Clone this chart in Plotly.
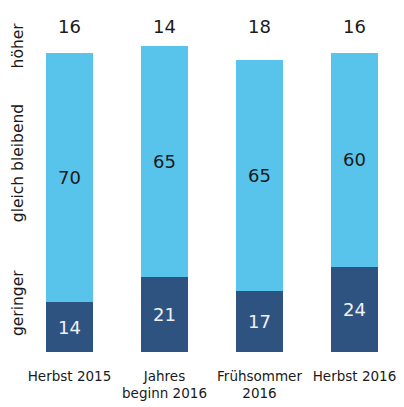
import plotly.graph_objects as go

categories = ["Herbst 2015", "Jahres<br>beginn 2016", "Frühsommer<br>2016", "Herbst 2016"]
geringer = [14, 21, 17, 24]
gleich = [70, 65, 65, 60]
hoeher = [16, 14, 18, 16]
row_labels = ["höher", "gleich bleibend", "geringer"]

LIGHT = "#58c4eb"
DARK = "#2e5381"
FONT = "DejaVu Sans"

fig = go.Figure()
fig.add_trace(go.Bar(
    x=categories, y=geringer, marker=dict(color=DARK, line=dict(width=0)),
    text=geringer, texttemplate="%{text}", textposition="inside",
    insidetextanchor="middle", textangle=0,
    textfont=dict(family=FONT, size=18, color="#eef2f6"),
    hoverinfo="skip",
))
fig.add_trace(go.Bar(
    x=categories, y=gleich, marker=dict(color=LIGHT, line=dict(width=0)),
    text=gleich, texttemplate="%{text}", textposition="inside",
    insidetextanchor="middle", textangle=0,
    textfont=dict(family=FONT, size=18, color="#1a1a1a"),
    hoverinfo="skip",
))
fig.add_trace(go.Scatter(
    x=categories, y=[91.0] * len(categories), mode="text",
    text=[str(v) for v in hoeher],
    textfont=dict(family=FONT, size=18, color="#1a1a1a"),
    hoverinfo="skip", cliponaxis=False,
))

label_y = [86.2, 53.1, 13.8]
for lab, yy in zip(row_labels, label_y):
    fig.add_annotation(
        text=lab, xref="paper", yref="y", x=-0.01, y=yy,
        xanchor="center", yanchor="middle", textangle=-90, showarrow=False,
        font=dict(family=FONT, size=15.5, color="#1a1a1a"),
    )

fig.update_layout(
    width=404, height=407,
    margin=dict(l=22, r=2, t=0, b=55),
    barmode="stack", bargap=0.5,
    plot_bgcolor="white", paper_bgcolor="white",
    showlegend=False,
    font=dict(family=FONT, color="#1a1a1a"),
)
fig.update_xaxes(
    showgrid=False, showline=False, zeroline=False, ticks="",
    tickfont=dict(family=FONT, size=13.5, color="#1a1a1a"),
    ticklabelstandoff=14,
    range=[-0.5, 3.5],
)
fig.update_yaxes(
    showgrid=False, showline=False, zeroline=False, showticklabels=False,
    range=[0, 98.9],
)

fig.write_html("out.html")
